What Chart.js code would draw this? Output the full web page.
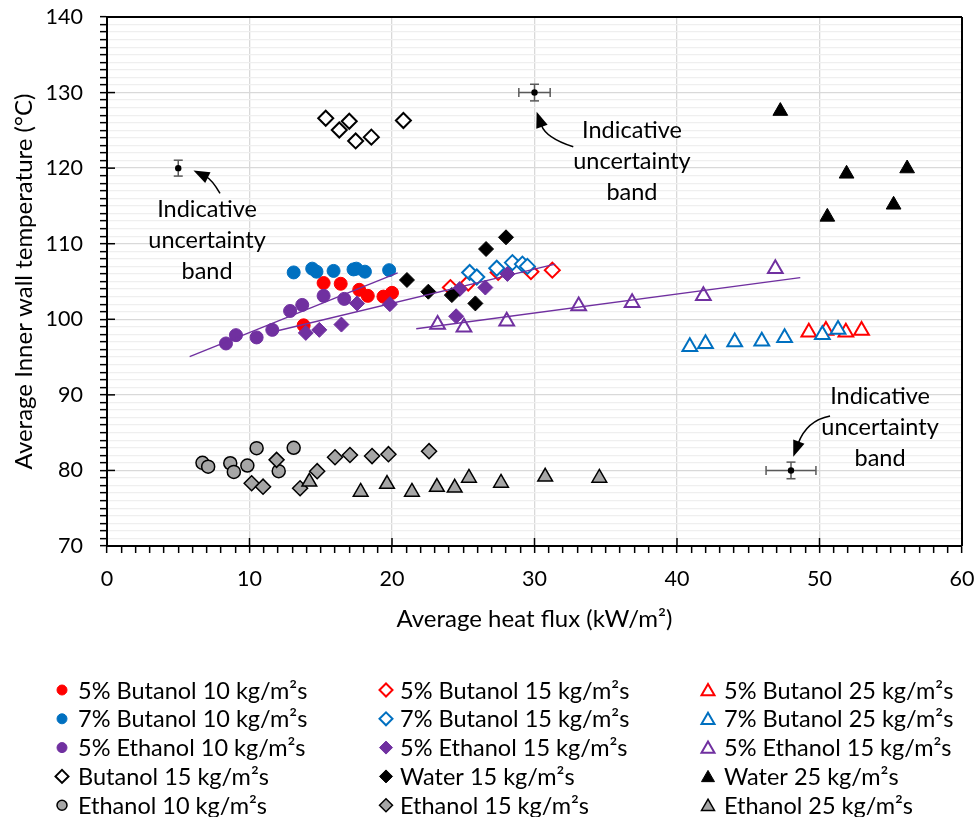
<!DOCTYPE html>
<html>
<head>
<meta charset="utf-8">
<script src="https://cdn.jsdelivr.net/npm/chart.js@4.4.0/dist/chart.umd.min.js"></script>
<style>
  html, body { margin: 0; padding: 0; background: #ffffff; }
  #wrap { width: 974px; height: 817px; position: relative; }
</style>
</head>
<body>
<div id="wrap"><canvas id="c" width="974" height="817"></canvas></div>
<script>
// ---------------- DATA ----------------
const xTickLabels = [0, 10, 20, 30, 40, 50, 60];
const yTickLabels = [70, 80, 90, 100, 110, 120, 130, 140];

// 5% Butanol 10 kg/m²s
const but5_10_x = [13.8, 15.2, 16.4, 17.7, 18.3, 19.4, 20.0];
const but5_10_y = [99.2, 104.8, 104.7, 103.9, 103.1, 103.0, 103.5];
// 5% Butanol 15 kg/m²s
const but5_15_x = [24.1, 25.35, 27.45, 29.75, 31.25];
const but5_15_y = [104.2, 104.8, 106.2, 106.3, 106.5];
// 5% Butanol 25 kg/m²s
const but5_25_x = [49.25, 50.45, 51.85, 52.95];
const but5_25_y = [98.3, 98.5, 98.3, 98.5];
// 7% Butanol 10 kg/m²s
const but7_10_x = [13.1, 14.4, 14.7, 15.9, 17.3, 17.5, 18.1, 19.8];
const but7_10_y = [106.2, 106.7, 106.3, 106.4, 106.6, 106.7, 106.3, 106.5];
// 7% Butanol 15 kg/m²s
const but7_15_x = [25.45, 25.95, 27.35, 28.45, 29.15, 29.5];
const but7_15_y = [106.2, 105.6, 106.75, 107.5, 107.3, 107.0];
// 7% Butanol 25 kg/m²s
const but7_25_x = [40.9, 42.0, 44.05, 45.95, 47.55, 50.2, 51.3];
const but7_25_y = [96.35, 96.75, 97.0, 97.1, 97.55, 97.95, 98.65];
// 5% Ethanol 10 kg/m²s
const eth5_10_x = [8.35, 9.05, 10.5, 11.6, 12.85, 13.7, 15.2, 16.65];
const eth5_10_y = [96.8, 97.9, 97.6, 98.6, 101.1, 101.9, 103.1, 102.7];
// 5% Ethanol 15 kg/m²s (diamonds)
const eth5_15_x = [13.95, 14.9, 16.45, 17.55, 19.85, 24.5, 24.75, 26.55, 28.1];
const eth5_15_y = [98.2, 98.6, 99.3, 102.1, 102.0, 100.4, 104.0, 104.2, 106.0];
// 5% Ethanol 15 kg/m²s (triangles)
const eth5_15t_x = [23.2, 25.05, 28.05, 33.1, 36.85, 41.85, 46.9];
const eth5_15t_y = [99.3, 98.95, 99.75, 101.75, 102.2, 103.1, 106.7];
// Butanol 15 kg/m²s
const but_15_x = [15.35, 16.3, 17.0, 17.45, 18.55, 20.8];
const but_15_y = [126.6, 125.05, 126.2, 123.6, 124.1, 126.3];
// Water 15 kg/m²s
const wat_15_x = [21.05, 22.55, 24.2, 25.85, 26.6, 28.0];
const wat_15_y = [105.2, 103.65, 103.2, 102.1, 109.3, 110.85];
// Water 25 kg/m²s
const wat_25_x = [47.25, 50.55, 51.9, 55.2, 56.15];
const wat_25_y = [127.55, 113.55, 119.25, 115.15, 119.95];
// Ethanol 10 kg/m²s
const eth_10_x = [6.7, 7.1, 8.65, 8.9, 9.85, 10.5, 12.05, 13.1];
const eth_10_y = [81.0, 80.5, 80.95, 79.8, 80.65, 82.95, 79.9, 83.0];
// Ethanol 15 kg/m²s
const eth_15_x = [10.15, 10.95, 11.9, 13.55, 14.75, 16.0, 17.05, 18.6, 19.75, 22.6];
const eth_15_y = [78.3, 77.85, 81.4, 77.65, 79.9, 81.75, 82.05, 81.9, 82.15, 82.55];
// Ethanol 25 kg/m²s
const eth_25_x = [14.2, 17.8, 19.65, 21.4, 23.15, 24.4, 25.4, 27.65, 30.75, 34.55];
const eth_25_y = [78.5, 77.15, 78.2, 77.15, 77.8, 77.7, 79.0, 78.35, 79.15, 79.0];

// Linear trend lines (end points)
const trendA_x = [5.8, 20.4];   const trendA_y = [95.05, 106.15];
const trendB_x = [11.9, 31.45]; const trendB_y = [98.45, 107.3];
const trendC_x = [21.7, 48.65]; const trendC_y = [98.75, 105.5];

// Indicative uncertainty points
const unc_x = [5, 30, 48];
const unc_y = [120, 130, 80];
const unc_xerr = [0, 1.1, 1.75];
const unc_yerr = [1.05, 1.1, 1.1];

// Annotation texts (anchors in data units)
const noteLines = ['Indicative', 'uncertainty', 'band'];
const note_x = [7.02, 36.84, 54.25];
const note_y = [110.5, 120.95, 85.75];
// arrows: tail -> control -> tip
const arrowTail_x = [7.93, 32.72, 50.74], arrowTail_y = [116.67, 122.84, 87.2];
const arrowCtrl_x = [7.35, 30.8, 49.1],   arrowCtrl_y = [118.5, 124.0, 86.6];
const arrowTip_x  = [6.07, 30.15, 48.16], arrowTip_y  = [119.69, 127.47, 81.82];

// ---------------- STYLE ----------------
const FONT = "Lato, 'Open Sans', sans-serif";
const RED = '#ff0000', BLUE = '#0070c0', PURPLE = '#7030a0', BLACK = '#000000', GREY = '#a6a6a6';

const mctx = document.createElement('canvas').getContext('2d');
function fitSize(text, target) {
  mctx.font = '100px ' + FONT;
  return Math.round(100 * target / mctx.measureText(text).width * 2) / 2;
}
const SZ_LEGEND = fitSize('5% Butanol 10 kg/m²s', 230);
const SZ_NOTE = fitSize('uncertainty', 117);
const SZ_TITLE = fitSize('Average Inner wall temperature (°C)', 376);
const SZ_TICK = fitSize('140', 37);

function pts(xs, ys) { return xs.map((v, i) => ({ x: v, y: ys[i] })); }

// series: label, xs, ys, shape, stroke, fill, borderWidth, radius, legendRadius
const series = [
  ['5% Butanol 10 kg/m²s', but5_10_x, but5_10_y, 'circle', RED, RED, 1, 6.5, 5],
  ['5% Butanol 15 kg/m²s', but5_15_x, but5_15_y, 'rectRot', RED, '#ffffff', 2, 7.5, 6.5],
  ['5% Butanol 25 kg/m²s', but5_25_x, but5_25_y, 'triangle', RED, '#ffffff', 2, 8.5, 7.5],
  ['7% Butanol 10 kg/m²s', but7_10_x, but7_10_y, 'circle', BLUE, BLUE, 1, 6.5, 5],
  ['7% Butanol 15 kg/m²s', but7_15_x, but7_15_y, 'rectRot', BLUE, '#ffffff', 2, 7.5, 6.5],
  ['7% Butanol 25 kg/m²s', but7_25_x, but7_25_y, 'triangle', BLUE, '#ffffff', 2, 8.5, 7.5],
  ['5% Ethanol 10 kg/m²s', eth5_10_x, eth5_10_y, 'circle', PURPLE, PURPLE, 1, 6.5, 5],
  ['5% Ethanol 15 kg/m²s', eth5_15_x, eth5_15_y, 'rectRot', PURPLE, PURPLE, 1, 7.5, 6.5],
  ['5% Ethanol 15 kg/m²s', eth5_15t_x, eth5_15t_y, 'triangle', PURPLE, '#ffffff', 2, 8.5, 7.5],
  ['Butanol 15 kg/m²s', but_15_x, but_15_y, 'rectRot', BLACK, '#ffffff', 2, 7.5, 6.5],
  ['Water 15 kg/m²s', wat_15_x, wat_15_y, 'rectRot', BLACK, BLACK, 1, 7.5, 6.5],
  ['Water 25 kg/m²s', wat_25_x, wat_25_y, 'triangle', BLACK, BLACK, 1, 8.5, 7.5],
  ['Ethanol 10 kg/m²s', eth_10_x, eth_10_y, 'circle', BLACK, GREY, 1.5, 6.5, 5],
  ['Ethanol 15 kg/m²s', eth_15_x, eth_15_y, 'rectRot', BLACK, GREY, 1.5, 7.5, 6.5],
  ['Ethanol 25 kg/m²s', eth_25_x, eth_25_y, 'triangle', BLACK, GREY, 1.5, 8.5, 7.5]
];

const datasets = series.map((s, i) => ({
  label: s[0],
  data: pts(s[1], s[2]),
  showLine: false,
  pointStyle: s[3],
  borderColor: s[4],
  backgroundColor: s[5],
  pointBorderColor: s[4],
  pointBackgroundColor: s[5],
  pointBorderWidth: s[6],
  pointRadius: s[7],
  pointHoverRadius: s[7],
  order: 100 - i
}));

[[trendA_x, trendA_y], [trendB_x, trendB_y], [trendC_x, trendC_y]].forEach((t) => {
  datasets.push({
    label: 'trend',
    data: pts(t[0], t[1]),
    showLine: true,
    borderColor: PURPLE,
    borderWidth: 1.3,
    pointRadius: 0,
    pointHoverRadius: 0,
    fill: false,
    order: 10
  });
});

datasets.push({
  label: 'uncertainty',
  data: pts(unc_x, unc_y),
  showLine: false,
  pointStyle: 'circle',
  backgroundColor: BLACK,
  borderColor: BLACK,
  pointRadius: 3.2,
  pointBorderWidth: 0,
  order: 5
});

function line(ctx, x0, y0, x1, y1) { ctx.beginPath(); ctx.moveTo(x0, y0); ctx.lineTo(x1, y1); ctx.stroke(); }

const extras = {
  id: 'extras',
  beforeDatasetsDraw(chart) {
    const { ctx, chartArea: a, scales: { x, y } } = chart;
    ctx.save();
    ctx.strokeStyle = '#000'; ctx.lineWidth = 2;
    line(ctx, a.left, a.top, a.right, a.top);
    line(ctx, a.right, a.top, a.right, a.bottom);
    ctx.lineWidth = 1.5;
    yTickLabels.forEach(v => { const py = y.getPixelForValue(v); line(ctx, a.left, py, a.left + 8, py); });
    xTickLabels.forEach(v => { const px = x.getPixelForValue(v); line(ctx, px, a.bottom, px, a.bottom - 8); });
    ctx.strokeStyle = '#595959'; ctx.lineWidth = 1.5;
    for (let i = 0; i < unc_x.length; i++) {
      const px = x.getPixelForValue(unc_x[i]), py = y.getPixelForValue(unc_y[i]);
      if (unc_xerr[i] > 0) {
        const x0 = x.getPixelForValue(unc_x[i] - unc_xerr[i]), x1 = x.getPixelForValue(unc_x[i] + unc_xerr[i]);
        line(ctx, x0, py, x1, py); line(ctx, x0, py - 4.5, x0, py + 4.5); line(ctx, x1, py - 4.5, x1, py + 4.5);
      }
      if (unc_yerr[i] > 0) {
        const y0 = y.getPixelForValue(unc_y[i] - unc_yerr[i]), y1 = y.getPixelForValue(unc_y[i] + unc_yerr[i]);
        line(ctx, px, y0, px, y1); line(ctx, px - 4.5, y0, px + 4.5, y0); line(ctx, px - 4.5, y1, px + 4.5, y1);
      }
    }
    ctx.restore();
  },
  afterDraw(chart) {
    const { ctx, scales: { x, y } } = chart;
    ctx.save();
    ctx.fillStyle = '#000';
    ctx.font = SZ_NOTE + 'px ' + FONT;
    ctx.textAlign = 'center';
    ctx.textBaseline = 'middle';
    for (let i = 0; i < note_x.length; i++) {
      const cx = x.getPixelForValue(note_x[i]), cy = y.getPixelForValue(note_y[i]);
      noteLines.forEach((t, k) => ctx.fillText(t, cx, cy + (k - 1) * 31));
    }
    ctx.strokeStyle = '#000'; ctx.lineWidth = 1.5;
    for (let i = 0; i < arrowTip_x.length; i++) {
      const tx = x.getPixelForValue(arrowTail_x[i]), ty = y.getPixelForValue(arrowTail_y[i]);
      const cx = x.getPixelForValue(arrowCtrl_x[i]), cy = y.getPixelForValue(arrowCtrl_y[i]);
      const hx = x.getPixelForValue(arrowTip_x[i]), hy = y.getPixelForValue(arrowTip_y[i]);
      let dx = hx - cx, dy = hy - cy; const d = Math.hypot(dx, dy); dx /= d; dy /= d;
      const L = 16, W = 6;
      const bx = hx - dx * L, by = hy - dy * L;
      ctx.beginPath(); ctx.moveTo(tx, ty); ctx.quadraticCurveTo(cx, cy, bx + dx * 2, by + dy * 2); ctx.stroke();
      ctx.beginPath();
      ctx.moveTo(hx, hy);
      ctx.lineTo(bx - dy * W, by + dx * W);
      ctx.lineTo(bx + dy * W, by - dx * W);
      ctx.closePath(); ctx.fillStyle = '#000'; ctx.fill();
    }
    const colMarker = [62, 386, 708], colText = [78, 400, 724];
    ctx.font = SZ_LEGEND + 'px ' + FONT;
    ctx.textAlign = 'left';
    ctx.textBaseline = 'middle';
    series.forEach((s, i) => {
      const col = i % 3, row = Math.floor(i / 3);
      const yy = 690 + row * 28.8;
      ctx.fillStyle = s[5]; ctx.strokeStyle = s[4]; ctx.lineWidth = s[6];
      Chart.helpers.drawPoint(ctx, { pointStyle: s[3], radius: s[8], rotation: 0, borderWidth: s[6] }, colMarker[col], yy + (s[3] === 'triangle' ? 1.5 : 0));
      ctx.fillStyle = '#000';
      ctx.fillText(s[0], colText[col], yy + 1);
    });
    ctx.restore();
  }
};

const chart = new Chart(document.getElementById('c'), {
  type: 'scatter',
  data: { datasets },
  plugins: [extras],
  options: {
    responsive: false,
    animation: false,
    devicePixelRatio: 1,
    layout: { padding: { top: 17, right: 12, bottom: 180, left: 0 } },
    plugins: { legend: { display: false }, tooltip: { enabled: false } },
    scales: {
      x: {
        type: 'linear', min: 0, max: 60,
        ticks: {
          stepSize: 1, autoSkip: false, maxRotation: 0, minRotation: 0, padding: 13,
          callback: v => (xTickLabels.includes(v) ? String(v) : ''),
          font: { family: FONT, size: SZ_TICK }, color: '#000'
        },
        grid: {
          color: c => (c.tick && xTickLabels.includes(c.tick.value) ? '#d9d9d9' : 'rgba(0,0,0,0)'),
          lineWidth: 1.3, tickLength: 7, tickColor: '#000', tickWidth: 1.5
        },
        border: { color: '#000', width: 2 },
        title: { display: true, text: 'Average heat flux (kW/m²)', font: { family: FONT, size: SZ_TITLE }, color: '#000', padding: { top: 4, bottom: 3 } },
        afterFit: s => { s.height = 91; s.paddingLeft = 0; s.paddingRight = 0; }
      },
      y: {
        type: 'linear', min: 70, max: 140,
        ticks: {
          stepSize: 1, autoSkip: false, padding: 17,
          callback: v => (yTickLabels.includes(v) ? String(v) : ''),
          font: { family: FONT, size: SZ_TICK }, color: '#000'
        },
        grid: {
          color: c => (c.tick && yTickLabels.includes(c.tick.value) ? '#d9d9d9' : '#efefef'),
          lineWidth: 1.3, tickLength: 7, tickColor: '#000', tickWidth: 1.5
        },
        border: { color: '#000', width: 2 },
        title: { display: true, text: 'Average Inner wall temperature (°C)', font: { family: FONT, size: SZ_TITLE }, color: '#000', padding: { top: 10, bottom: 4 } },
        afterFit: s => { s.width = 107; s.paddingTop = 0; s.paddingBottom = 0; }
      }
    }
  }
});

// nudge the layout padding so the plot area lands on the reference frame
for (let k = 0; k < 4; k++) {
  const a = chart.chartArea, p = chart.config.options.layout.padding;
  const dt = 17 - a.top, dr = a.right - 962, db = a.bottom - 546, dl = 107 - a.left;
  if (Math.abs(dt) < 0.3 && Math.abs(dr) < 0.3 && Math.abs(db) < 0.3 && Math.abs(dl) < 0.3) break;
  p.top += dt; p.right += dr; p.bottom += db; p.left += dl;
  chart.update();
}
</script>
</body>
</html>
